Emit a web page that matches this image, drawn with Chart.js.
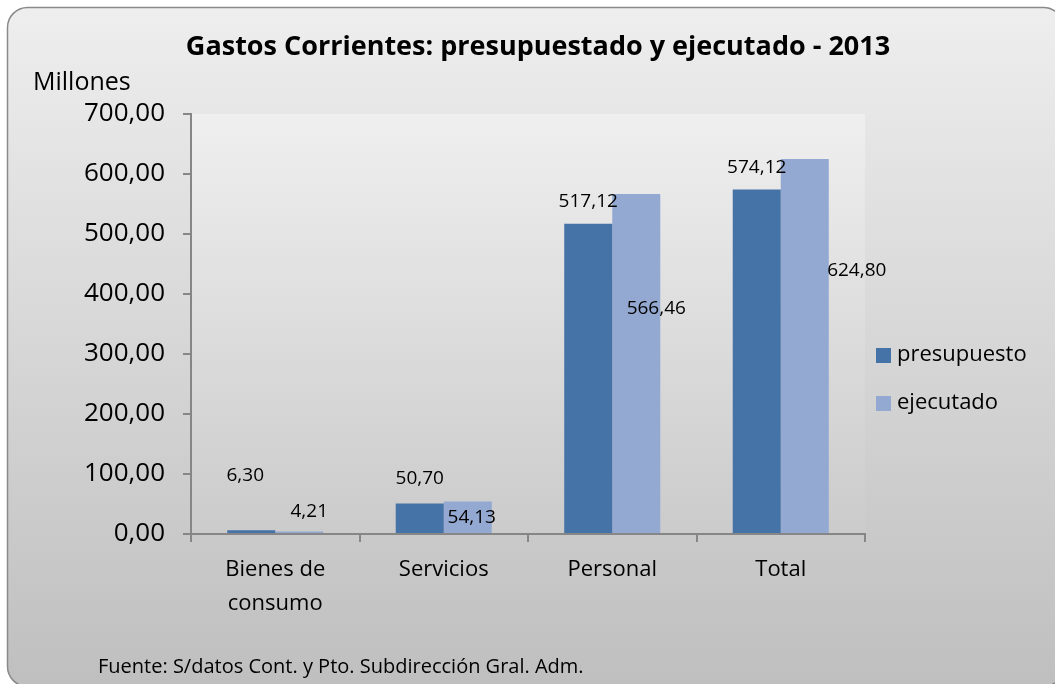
<!DOCTYPE html>
<html>
<head>
<meta charset="utf-8">
<script src="https://cdn.jsdelivr.net/npm/chart.js@4.4.0/dist/chart.umd.min.js"></script>
<style>
  html, body { margin: 0; padding: 0; background: #fff; }
  #wrap { width: 1055px; height: 684px; }
</style>
</head>
<body>
<div id="wrap"><canvas id="myChart" width="1055" height="684"></canvas></div>
<script>
const categories = [['Bienes de', 'consumo'], 'Servicios', 'Personal', 'Total'];
const presupuesto = [6.30, 50.70, 517.12, 574.12];
const ejecutado = [4.21, 54.13, 566.46, 624.80];
const yTicks = [0, 100, 200, 300, 400, 500, 600, 700];

// where Excel left each data label, relative to the top of its bar
const labelShift = [
  [[-6, -55], [0, -25], [0, -22], [0, -22]],
  [[10, -20], [4, 16], [20, 114], [52, 111]]
];

const FONT = "'Open Sans', 'Noto Sans', sans-serif";

function fmt(v) {
  return v.toFixed(2).replace('.', ',');
}

const decor = {
  id: 'decor',
  beforeDraw(chart) {
    const ctx = chart.ctx;
    const a = chart.chartArea;
    ctx.save();
    // outer rounded frame
    let g = ctx.createLinearGradient(0, 7, 0, 684);
    g.addColorStop(0, '#eeeeee');
    g.addColorStop(1, '#bfbfbf');
    ctx.beginPath();
    ctx.roundRect(7.5, 7.5, 1056, 679, 20);
    ctx.fillStyle = g;
    ctx.fill();
    ctx.lineWidth = 1.5;
    ctx.strokeStyle = '#8a8a8a';
    ctx.stroke();
    // plot area
    g = ctx.createLinearGradient(0, a.top, 0, a.bottom);
    g.addColorStop(0, '#efefef');
    g.addColorStop(1, '#cbcbcb');
    ctx.fillStyle = g;
    ctx.fillRect(a.left, a.top, a.right - a.left, a.bottom - a.top);
    ctx.restore();
  },
  afterDatasetsDraw(chart) {
    const ctx = chart.ctx;
    ctx.save();
    ctx.fillStyle = '#000';
    ctx.textAlign = 'center';
    ctx.textBaseline = 'middle';
    ctx.font = '19px ' + FONT;
    chart.data.datasets.forEach((ds, di) => {
      chart.getDatasetMeta(di).data.forEach((bar, i) => {
        const s = labelShift[di][i];
        ctx.fillText(fmt(ds.data[i]), bar.x + s[0], bar.y + s[1]);
      });
    });

    // title, unit, source
    ctx.font = 'bold 27px ' + FONT;
    ctx.fillText('Gastos Corrientes: presupuestado y ejecutado - 2013', 538, 47);
    ctx.textAlign = 'left';
    ctx.font = '25px ' + FONT;
    ctx.fillText('Millones', 33, 83);
    ctx.font = '20px ' + FONT;
    ctx.fillText('Fuente: S/datos Cont. y Pto. Subdirección Gral. Adm.', 98, 667);

    // legend
    ctx.font = '22px ' + FONT;
    chart.data.datasets.forEach((ds, di) => {
      const y = 355 + di * 48;
      ctx.fillStyle = ds.backgroundColor;
      ctx.fillRect(876, y - 7, 15, 15);
      ctx.fillStyle = '#000';
      ctx.fillText(ds.label, 897, y);
    });
    ctx.restore();
  }
};

const config = {
  type: 'bar',
  data: {
    labels: categories,
    datasets: [
      {
        label: 'presupuesto',
        data: presupuesto,
        backgroundColor: '#4572a7',
        categoryPercentage: 0.57,
        barPercentage: 1.0
      },
      {
        label: 'ejecutado',
        data: ejecutado,
        backgroundColor: '#94a9d1',
        categoryPercentage: 0.57,
        barPercentage: 1.0
      }
    ]
  },
  options: {
    responsive: false,
    animation: false,
    layout: { padding: { left: 0, top: 114, right: 190, bottom: 0 } },
    plugins: {
      legend: { display: false },
      title: { display: false },
      tooltip: { enabled: false }
    },
    scales: {
      x: {
        grid: {
          display: true,
          offset: true,
          drawOnChartArea: false,
          tickLength: 8,
          color: '#868686',
          lineWidth: 2
        },
        border: { color: '#868686', width: 2 },
        ticks: {
          color: '#000',
          font: { family: FONT, size: 22, lineHeight: 1.55 },
          padding: 11,
          maxRotation: 0
        },
        afterFit(scale) { scale.height = 150; }
      },
      y: {
        min: 0,
        max: 700,
        afterBuildTicks(scale) {
          scale.ticks = yTicks.map(v => ({ value: v }));
        },
        grid: {
          drawOnChartArea: false,
          tickLength: 8,
          color: '#868686',
          lineWidth: 2
        },
        border: { color: '#868686', width: 2 },
        ticks: {
          color: '#000',
          font: { family: FONT, size: 26 },
          padding: 18,
          callback: v => fmt(v)
        },
        afterFit(scale) { scale.width = 191; }
      }
    }
  },
  plugins: [decor]
};

new Chart(document.getElementById('myChart'), config);
</script>
</body>
</html>
